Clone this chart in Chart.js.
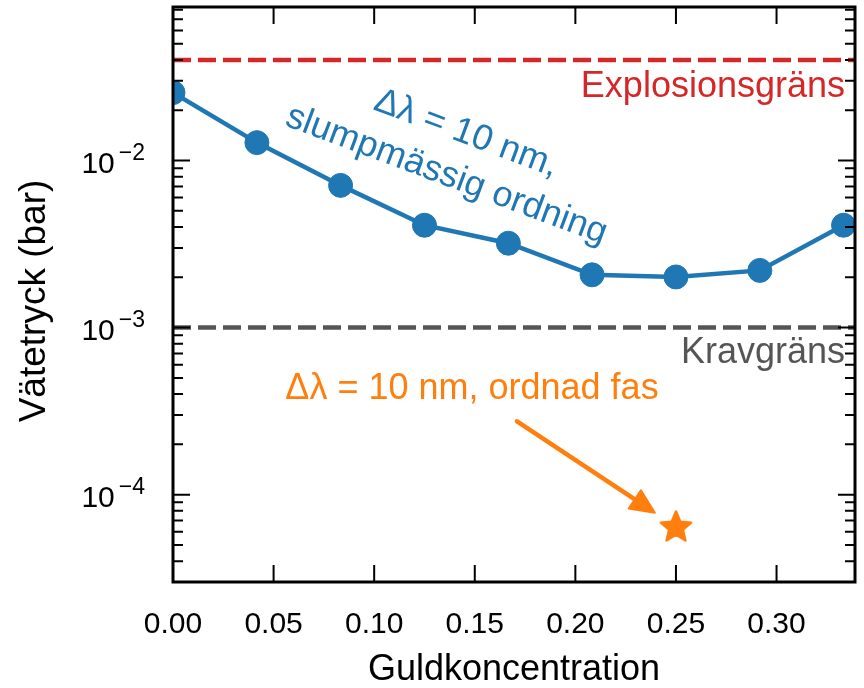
<!DOCTYPE html>
<html lang="sv">
<head>
<meta charset="UTF-8">
<title>Vätetryck mot guldkoncentration</title>
<script src="https://cdn.jsdelivr.net/npm/chart.js"></script>
<style>
  body { margin: 0; background: #fff; }
</style>
</head>
<body>
<canvas id="chart" width="864" height="688"></canvas>
<script>
// data
const concentrations = [0.0, 0.0417, 0.0833, 0.125, 0.1667, 0.2083, 0.25, 0.2917, 0.3333];
const pressures = [0.0255, 0.0128, 0.0071, 0.0041, 0.0032, 0.00207, 0.00201, 0.0022, 0.0041];
const orderedX = [0.25];
const orderedY = [6.5e-5];
const explosionLimit = 0.04;
const requiredLimit = 0.001;

// axes
const xRange = [0, 0.339];
const yRange = [3e-5, 0.083];
const xTicks = [0.00, 0.05, 0.10, 0.15, 0.20, 0.25, 0.30];
const xTickLabels = ['0.00', '0.05', '0.10', '0.15', '0.20', '0.25', '0.30'];
const yMajorTicks = [1e-2, 1e-3, 1e-4];
const yTickExponents = ['\u22122', '\u22123', '\u22124'];
const yMinorSteps = [2, 3, 4, 5, 6, 7, 8, 9];

const blue = '#1f77b4';
const orange = '#ff7f0e';
const red = '#d62728';
const grey = '#555555';
const FONT = "'Liberation Sans', Arial, Helvetica, sans-serif";

// filled star marker (chart.js 'star' is only stroked)
function makeStar(r, color) {
    const size = Math.ceil(r * 2 + 6);
    const c = document.createElement('canvas');
    c.width = size;
    c.height = size;
    const g = c.getContext('2d');
    g.translate(size / 2, size / 2 + r * 0.1);
    g.beginPath();
    for (let i = 0; i < 10; i++) {
        const rad = i % 2 ? r * 0.45 : r;
        const a = -Math.PI / 2 + i * Math.PI / 5;
        g.lineTo(rad * Math.cos(a), rad * Math.sin(a));
    }
    g.closePath();
    g.fillStyle = color;
    g.fill();
    g.lineJoin = 'round';
    g.lineWidth = 2.5;
    g.strokeStyle = color;
    g.stroke();
    return c;
}

const axesPlugin = {
    id: 'axesPlugin',
    afterDatasetsDraw(chart) {
        const ctx = chart.ctx;
        const a = chart.chartArea;
        const x = chart.scales.x;
        const y = chart.scales.y;
        ctx.save();

        // frame
        ctx.strokeStyle = '#000';
        ctx.lineWidth = 3;
        ctx.strokeRect(a.left, a.top, a.right - a.left, a.bottom - a.top);

        // ticks, pointing inwards on all four sides
        ctx.lineWidth = 2;
        ctx.beginPath();
        xTicks.forEach(v => {
            const px = x.getPixelForValue(v);
            ctx.moveTo(px, a.bottom); ctx.lineTo(px, a.bottom - 17);
            ctx.moveTo(px, a.top); ctx.lineTo(px, a.top + 17);
        });
        yMajorTicks.forEach(v => {
            const py = y.getPixelForValue(v);
            ctx.moveTo(a.left, py); ctx.lineTo(a.left + 17, py);
            ctx.moveTo(a.right, py); ctx.lineTo(a.right - 17, py);
        });
        for (let e = -5; e <= -2; e++) {
            yMinorSteps.forEach(m => {
                const v = m * Math.pow(10, e);
                if (v < yRange[0] || v > yRange[1]) return;
                const py = y.getPixelForValue(v);
                ctx.moveTo(a.left, py); ctx.lineTo(a.left + 10, py);
                ctx.moveTo(a.right, py); ctx.lineTo(a.right - 10, py);
            });
        }
        ctx.stroke();

        // tick labels
        ctx.fillStyle = '#000';
        ctx.font = '30px ' + FONT;
        ctx.textAlign = 'center';
        ctx.textBaseline = 'alphabetic';
        xTicks.forEach((v, i) => {
            ctx.fillText(xTickLabels[i], x.getPixelForValue(v), 633);
        });
        yMajorTicks.forEach((v, i) => {
            const py = y.getPixelForValue(v);
            ctx.font = '23px ' + FONT;
            const w = ctx.measureText(yTickExponents[i]).width;
            ctx.textAlign = 'left';
            ctx.fillText(yTickExponents[i], 145 - w, py - 1);
            ctx.font = '30px ' + FONT;
            ctx.textAlign = 'right';
            ctx.fillText('10', 145 - w - 4, py + 12);
        });

        // axis titles
        ctx.font = '36px ' + FONT;
        ctx.textAlign = 'center';
        ctx.fillText('Guldkoncentration', (a.left + a.right) / 2, 680);
        ctx.save();
        ctx.translate(35, 301);
        ctx.rotate(-Math.PI / 2);
        ctx.textBaseline = 'middle';
        ctx.font = '37px ' + FONT;
        ctx.fillText('Vätetryck (bar)', 0, 0);
        ctx.restore();

        // limit labels
        ctx.textAlign = 'right';
        ctx.fillStyle = red;
        ctx.fillText('Explosionsgräns', 845, 97);
        ctx.fillStyle = grey;
        ctx.fillText('Kravgräns', 845, 363);

        // series annotations
        ctx.fillStyle = blue;
        ctx.save();
        ctx.translate(451, 163);
        ctx.rotate(20.5 * Math.PI / 180);
        ctx.textAlign = 'center';
        ctx.fillText('Δλ = 10 nm,', 4, -23);
        ctx.fillText('slumpmässig ordning', 0, 23);
        ctx.restore();

        ctx.fillStyle = orange;
        ctx.textAlign = 'center';
        ctx.fillText('Δλ = 10 nm, ordnad fas', 472, 399);

        // arrow towards the star
        const x0 = x.getPixelForValue(0.171), y0 = y.getPixelForValue(2.75e-4);
        const x1 = x.getPixelForValue(0.2395), y1 = y.getPixelForValue(7.8e-5);
        const ang = Math.atan2(y1 - y0, x1 - x0);
        const headLen = 24, headW = 11;
        const bx = x1 - headLen * Math.cos(ang), by = y1 - headLen * Math.sin(ang);
        ctx.strokeStyle = orange;
        ctx.lineWidth = 4.5;
        ctx.lineCap = 'round';
        ctx.beginPath();
        ctx.moveTo(x0, y0);
        ctx.lineTo(bx, by);
        ctx.stroke();
        ctx.beginPath();
        ctx.moveTo(x1, y1);
        ctx.lineTo(bx + headW * Math.sin(ang), by - headW * Math.cos(ang));
        ctx.lineTo(bx - headW * Math.sin(ang), by + headW * Math.cos(ang));
        ctx.closePath();
        ctx.fillStyle = orange;
        ctx.lineJoin = 'round';
        ctx.lineWidth = 2;
        ctx.fill();
        ctx.stroke();

        ctx.restore();
    }
};

new Chart(document.getElementById('chart'), {
    type: 'scatter',
    data: {
        datasets: [
            {
                data: concentrations.map((c, i) => ({ x: c, y: pressures[i] })),
                showLine: true,
                borderColor: blue,
                backgroundColor: blue,
                borderWidth: 4.5,
                pointRadius: 12,
                pointHoverRadius: 12,
                pointBorderColor: blue,
                pointBorderWidth: 1,
                order: 1,
                clip: 0
            },
            {
                data: orderedX.map((c, i) => ({ x: c, y: orderedY[i] })),
                pointStyle: makeStar(16, orange),
                order: 0,
                clip: 0
            },
            {
                data: [{ x: xRange[0], y: explosionLimit }, { x: xRange[1], y: explosionLimit }],
                showLine: true,
                borderColor: red,
                borderWidth: 4.5,
                borderDash: [18, 7],
                pointRadius: 0,
                order: 2,
                clip: 0
            },
            {
                data: [{ x: xRange[0], y: requiredLimit }, { x: xRange[1], y: requiredLimit }],
                showLine: true,
                borderColor: grey,
                borderWidth: 4.5,
                borderDash: [18, 7],
                pointRadius: 0,
                order: 2,
                clip: 0
            }
        ]
    },
    options: {
        responsive: false,
        animation: false,
        devicePixelRatio: 1,
        events: [],
        layout: { autoPadding: false, padding: { left: 173, top: 7, right: 9, bottom: 106 } },
        scales: {
            x: { type: 'linear', min: xRange[0], max: xRange[1], display: false },
            y: { type: 'logarithmic', min: yRange[0], max: yRange[1], display: false }
        },
        plugins: {
            legend: { display: false },
            tooltip: { enabled: false }
        }
    },
    plugins: [axesPlugin]
});
</script>
</body>
</html>
